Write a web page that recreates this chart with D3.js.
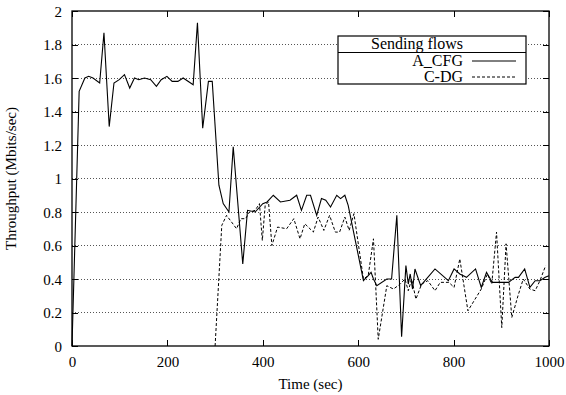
<!DOCTYPE html>
<html><head><meta charset="utf-8">
<script src="https://cdn.jsdelivr.net/npm/d3@7/dist/d3.min.js"></script>
<style>body{margin:0;background:#fff}svg{display:block}text{font-family:'Liberation Serif','Times New Roman',serif}</style>
</head><body>
<svg id="c" width="566" height="395"></svg>
<script>
// ---- data ----
const seriesNames = ["A_CFG", "C-DG"];
const legendTitle = "Sending flows";
const xTicks = [0, 200, 400, 600, 800, 1000];
const yTicks = [0, 0.2, 0.4, 0.6, 0.8, 1, 1.2, 1.4, 1.6, 1.8, 2];
const yTickLabels = ["0", "0.2", "0.4", "0.6", "0.8", "1", "1.2", "1.4", "1.6", "1.8", "2"];
const xLabel = "Time (sec)";
const yLabel = "Throughput (Mbits/sec)";

const cfgTime = [0,15,27,35,44,58,67,78,88,99,110,121,131,140,152,165,177,187,199,210,222,233,254,263,274,286,294,308,317,329,338,358,368,384,400,409,422,437,457,471,481,492,500,513,523,532,542,555,563,572,579,611,621,627,632,639,660,670,681,691,700,705,709,714,719,731,740,761,789,801,813,827,846,858,869,881,906,915,929,936,949,960,971,981,992,1000];
const cfgValue = [0,1.52,1.60,1.61,1.60,1.57,1.87,1.31,1.57,1.59,1.62,1.54,1.60,1.59,1.60,1.59,1.55,1.59,1.61,1.58,1.58,1.60,1.56,1.93,1.30,1.58,1.58,0.96,0.85,0.80,1.19,0.49,0.81,0.80,0.85,0.86,0.90,0.86,0.87,0.90,0.81,0.90,0.90,0.78,0.88,0.87,0.83,0.90,0.88,0.90,0.84,0.39,0.42,0.44,0.40,0.36,0.40,0.40,0.78,0.055,0.48,0.37,0.43,0.34,0.46,0.36,0.39,0.46,0.39,0.46,0.43,0.41,0.46,0.35,0.44,0.38,0.38,0.38,0.41,0.41,0.46,0.35,0.39,0.39,0.41,0.42];

const dgTime = [300,314,324,345,354,364,372,384,393,399,405,412,419,431,450,465,478,488,506,516,528,540,552,561,572,581,591,611,621,632,642,660,674,688,698,705,712,721,733,746,761,772,790,801,813,830,858,871,880,890,901,910,922,935,946,960,971,981,993];
const dgValue = [0,0.72,0.78,0.70,0.76,0.76,0.80,0.81,0.85,0.63,0.84,0.86,0.60,0.71,0.70,0.76,0.64,0.73,0.68,0.77,0.69,0.78,0.68,0.68,0.77,0.69,0.79,0.40,0.42,0.64,0.04,0.36,0.34,0.37,0.40,0.33,0.40,0.28,0.37,0.39,0.33,0.38,0.38,0.35,0.52,0.21,0.34,0.43,0.37,0.68,0.11,0.61,0.17,0.30,0.40,0.34,0.33,0.39,0.48];

// ---- layout ----
const svg = d3.select("#c");
const L = 72, R = 549, T = 11, B = 346;
const x = d3.scaleLinear().domain([0, 1000]).range([L, R]);
const y = d3.scaleLinear().domain([0, 2]).range([B, T]);
const font = "'Liberation Serif', 'Times New Roman', serif";

// grid
svg.append("g").selectAll("line").data(yTicks.filter(v => v > 0 && v < 2)).join("line")
  .attr("x1", L).attr("x2", R).attr("y1", d => y(d)).attr("y2", d => y(d))
  .attr("stroke", "#555").attr("stroke-width", 1).attr("stroke-dasharray", "1,2")
  .attr("shape-rendering", "crispEdges");

// axes (inward ticks, mirrored)
const tl = 6;
const axB = svg.append("g").attr("transform", `translate(0,${B})`)
  .call(d3.axisBottom(x).tickValues(xTicks).tickSize(-tl).tickPadding(10).tickFormat(d3.format("d")));
const axT = svg.append("g").attr("transform", `translate(0,${T})`)
  .call(d3.axisTop(x).tickValues(xTicks).tickSize(-tl).tickFormat(""));
const axL = svg.append("g").attr("transform", `translate(${L},0)`)
  .call(d3.axisLeft(y).tickValues(yTicks).tickSize(-tl).tickPadding(10).tickFormat((d, i) => yTickLabels[i]));
const axR = svg.append("g").attr("transform", `translate(${R},0)`)
  .call(d3.axisRight(y).tickValues(yTicks).tickSize(-tl).tickFormat(""));
[axB, axT, axL, axR].forEach(a => {
  a.attr("font-family", font).attr("font-size", 15);
  a.select(".domain").remove();
  a.selectAll("line").attr("stroke", "#000").attr("shape-rendering", "crispEdges");
  a.selectAll("text").attr("font-family", font).attr("font-size", 15).attr("fill", "#000");
});
axL.selectAll("text").attr("dy", "0.35em");

// frame
svg.append("rect").attr("x", L).attr("y", T).attr("width", R - L).attr("height", B - T)
  .attr("fill", "none").attr("stroke", "#000").attr("stroke-width", 1.3);

// lines
const line = d3.line().x(d => x(d[0])).y(d => y(d[1]));
const cfg = cfgTime.map((t, i) => [t, cfgValue[i]]);
const dg = dgTime.map((t, i) => [t, dgValue[i]]);
svg.append("path").datum(dg).attr("d", line).attr("fill", "none")
  .attr("stroke", "#000").attr("stroke-width", 1).attr("stroke-dasharray", "3,2");
svg.append("path").datum(cfg).attr("d", line).attr("fill", "none")
  .attr("stroke", "#000").attr("stroke-width", 1.1);

// axis titles
svg.append("text").attr("x", (L + R) / 2).attr("y", 389).attr("text-anchor", "middle")
  .attr("font-family", font).attr("font-size", 15).text(xLabel);
svg.append("text").attr("transform", `translate(16,${(T + B) / 2}) rotate(-90)`)
  .attr("text-anchor", "middle").attr("font-family", font).attr("font-size", 15).text(yLabel);

// legend
const lg = svg.append("g");
lg.append("rect").attr("x", 338).attr("y", 36).attr("width", 188).attr("height", 48)
  .attr("fill", "#fff").attr("stroke", "#000").attr("stroke-width", 1.2);
lg.append("line").attr("x1", 338).attr("x2", 526).attr("y1", 52.5).attr("y2", 52.5).attr("stroke", "#000");
lg.append("text").attr("x", 417).attr("y", 49).attr("text-anchor", "middle")
  .attr("font-family", font).attr("font-size", 16).text(legendTitle);
const dashes = [null, "3,2"];
seriesNames.forEach((n, i) => {
  const yy = 61 + i * 16;
  lg.append("text").attr("x", 463).attr("y", yy + 5).attr("text-anchor", "end")
    .attr("font-family", font).attr("font-size", 16).text(n);
  lg.append("line").attr("x1", 472).attr("x2", 516).attr("y1", yy).attr("y2", yy)
    .attr("stroke", "#000").attr("stroke-dasharray", dashes[i]);
});
</script>
</body></html>
